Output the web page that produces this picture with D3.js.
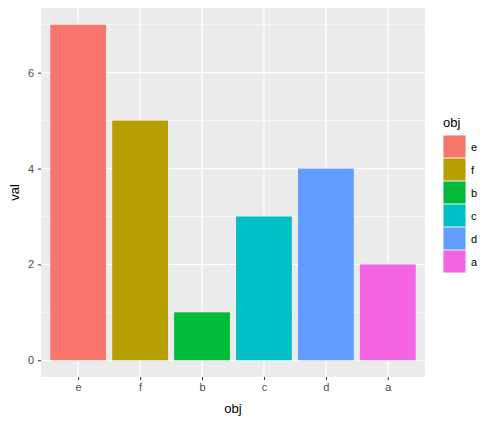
<!DOCTYPE html>
<html><head><meta charset="utf-8">
<script src="https://cdn.jsdelivr.net/npm/d3@7"></script>
<style>body{margin:0;background:#fff}svg text{font-family:"Liberation Sans",Arial,sans-serif}</style>
</head><body><svg id="chart" width="500" height="424"></svg>
<script>
// data
const categories = ["e", "f", "b", "c", "d", "a"];
const values = [7, 5, 1, 3, 4, 2];
const colors = ["#F8766D", "#B79F00", "#00BA38", "#00BFC4", "#619CFF", "#F564E3"];
const yTicks = [0, 2, 4, 6];
const yMinor = [1, 3, 5, 7];

const svg = d3.select("#chart");
const pLeft = 41, pRight = 425, pTop = 8, pBottom = 377;

// discrete x: categories at 1..6, expanded 0.6 each side
const xc = d3.scaleLinear().domain([0.4, 6.6]).range([pLeft, pRight]);
const step = xc(2) - xc(1);
const cx = d => xc(1 + categories.indexOf(d));
const y = d3.scaleLinear().domain([-0.35, 7.35]).range([pBottom, pTop]);

svg.append("rect").attr("x", pLeft).attr("y", pTop)
    .attr("width", pRight - pLeft).attr("height", pBottom - pTop).attr("fill", "#ebebeb");

// grid
svg.selectAll(".minor").data(yMinor).enter().append("line")
    .attr("x1", pLeft).attr("x2", pRight).attr("y1", d => y(d)).attr("y2", d => y(d))
    .attr("stroke", "#fff").attr("stroke-width", 0.6);
svg.selectAll(".major").data(yTicks).enter().append("line")
    .attr("x1", pLeft).attr("x2", pRight).attr("y1", d => y(d)).attr("y2", d => y(d))
    .attr("stroke", "#fff").attr("stroke-width", 1.2);
svg.selectAll(".vgrid").data(categories).enter().append("line")
    .attr("x1", cx).attr("x2", cx).attr("y1", pTop).attr("y2", pBottom)
    .attr("stroke", "#fff").attr("stroke-width", 1.2);

// bars
const bw = step * 0.9;
svg.selectAll(".bar").data(categories).enter().append("rect")
    .attr("x", d => cx(d) - bw / 2).attr("width", bw)
    .attr("y", (d, i) => y(values[i])).attr("height", (d, i) => y(0) - y(values[i]))
    .attr("fill", (d, i) => colors[i]);

// axes
const yAx = svg.append("g").attr("transform", `translate(${pLeft},0)`)
    .call(d3.axisLeft(y).tickValues(yTicks).tickSize(3).tickPadding(4));
const xAx = svg.append("g").attr("transform", `translate(0,${pBottom})`)
    .call(d3.axisBottom(d3.scalePoint().domain(categories).range([cx("e"), cx("a")]))
        .tickSize(3).tickPadding(3));
[yAx, xAx].forEach(g => {
    g.select(".domain").remove();
    g.selectAll("line").attr("stroke", "#333");
    g.selectAll("text").attr("fill", "#4d4d4d").style("font-size", "11px");
});

svg.append("text").attr("x", (pLeft + pRight) / 2).attr("y", 413).attr("text-anchor", "middle")
    .style("font-size", "13px").text("obj");
svg.append("text").attr("transform", `translate(19,${(pTop + pBottom) / 2}) rotate(-90)`)
    .attr("text-anchor", "middle").style("font-size", "13px").text("val");

// legend
const lg = svg.append("g").attr("transform", "translate(443,0)");
lg.append("text").attr("x", 0).attr("y", 127).style("font-size", "13px").text("obj");
const items = lg.selectAll(".item").data(categories).enter().append("g")
    .attr("transform", (d, i) => `translate(0,${135 + i * 23})`);
items.append("rect").attr("width", 23).attr("height", 23).attr("fill", "#f2f2f2");
items.append("rect").attr("x", 0.5).attr("y", 0.5).attr("width", 22).attr("height", 22)
    .attr("fill", (d, i) => colors[i]);
items.append("text").attr("x", 28).attr("y", 16).style("font-size", "11px")
    .attr("fill", "#000").text(d => d);
</script></body></html>
